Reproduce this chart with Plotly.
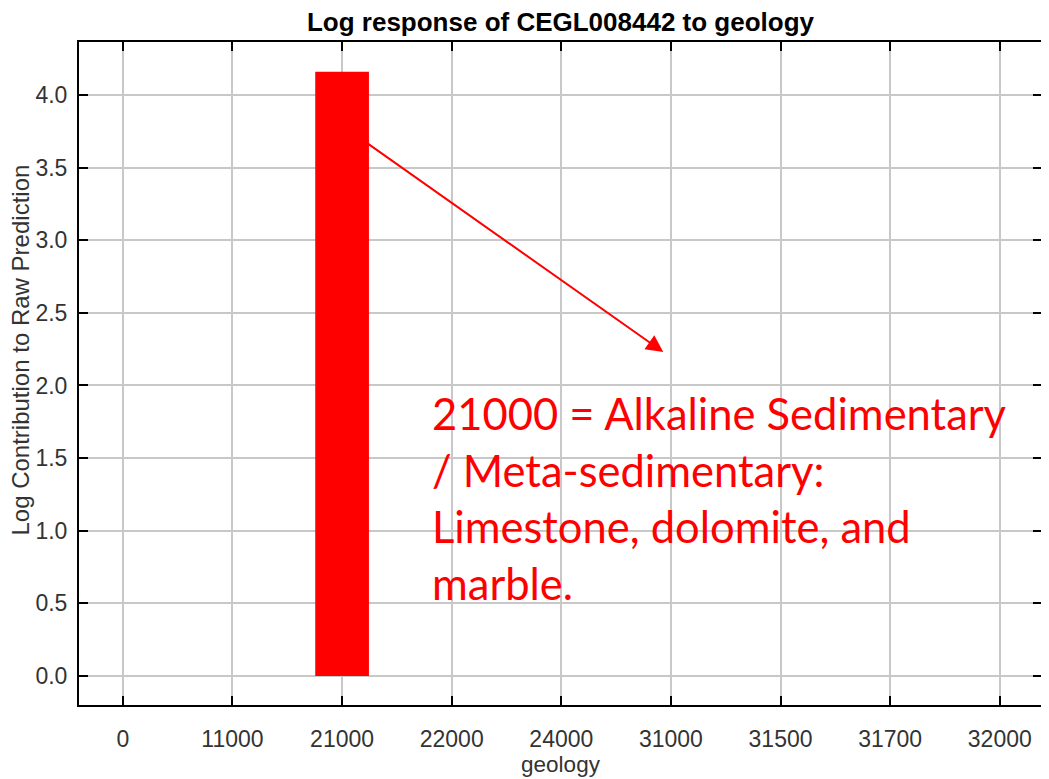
import plotly.graph_objects as go

categories = ["0", "11000", "21000", "22000", "24000", "31000", "31500", "31700", "32000"]
values = [0, 0, 4.16, 0, 0, 0, 0, 0, 0]
title_text = "Log response of CEGL008442 to geology"
x_title = "geology"
y_title = "Log Contribution to Raw Prediction"
note_lines = ["21000 = Alkaline Sedimentary", "/ Meta-sedimentary:", "Limestone, dolomite, and", "marble."]

fig = go.Figure()
fig.add_trace(go.Bar(x=categories, y=values, width=0.49,
                     marker=dict(color="#ff0000", line=dict(width=0))))

# y positions (data units) of the annotation text lines
note_y = [1.81, 1.42, 1.03, 0.64]
note_x = 2.80

for line, yy in zip(note_lines, note_y):
    fig.add_annotation(x=note_x, y=yy, xref="x", yref="y", text=line, showarrow=False,
                       xanchor="left", yanchor="middle",
                       font=dict(family="Lato, Open Sans, sans-serif", size=43.5, color="#ff0000"))

fig.add_annotation(x=4.93, y=2.23, ax=2.215, ay=3.676, xref="x", yref="y", axref="x", ayref="y",
                   text="", showarrow=True, arrowhead=2, arrowsize=1.7, arrowwidth=2,
                   arrowcolor="#ff0000")

# y-axis title drawn as a rotated annotation (sits slightly above the plot's centre)
fig.add_annotation(x=-0.061, y=0.535, xref="paper", yref="paper", text=y_title, showarrow=False,
                   textangle=-90, xanchor="center", yanchor="middle",
                   font=dict(family="Liberation Sans, Arial, sans-serif", size=24, color="#333333"))

axis_common = dict(showline=True, linecolor="black", linewidth=2, mirror="ticks",
                   ticks="inside", ticklen=9, tickwidth=2, tickcolor="black",
                   showgrid=True, gridcolor="#c8c8c8", gridwidth=1.5, zeroline=False,
                   automargin=False,
                   tickfont=dict(family="Liberation Sans, Arial, sans-serif", size=23, color="#333333"))

fig.update_xaxes(type="category", range=[-0.40, 8.385],
                 title=dict(text=x_title, standoff=0,
                            font=dict(family="Liberation Sans, Arial, sans-serif", size=22.5, color="#333333")),
                 ticklabelstandoff=12, **axis_common)
fig.update_yaxes(range=[-0.2, 4.365], dtick=0.5, tickformat=".1f",
                 ticklabelstandoff=5, **axis_common)

# the page body adds an 8 px margin, so the figure is sized to fit the 1049x779 window
fig.update_layout(
    width=1041, height=771,
    margin=dict(l=71, r=7, t=34, b=74),
    paper_bgcolor="white", plot_bgcolor="white",
    showlegend=False,
    title=dict(text="<b>" + title_text + "</b>", xref="paper", x=0.5, xanchor="center",
               y=0.982, yanchor="middle",
               font=dict(family="Liberation Sans Narrow, Arial Narrow, sans-serif", size=26, color="black")),
)

fig.write_html("out.html")
